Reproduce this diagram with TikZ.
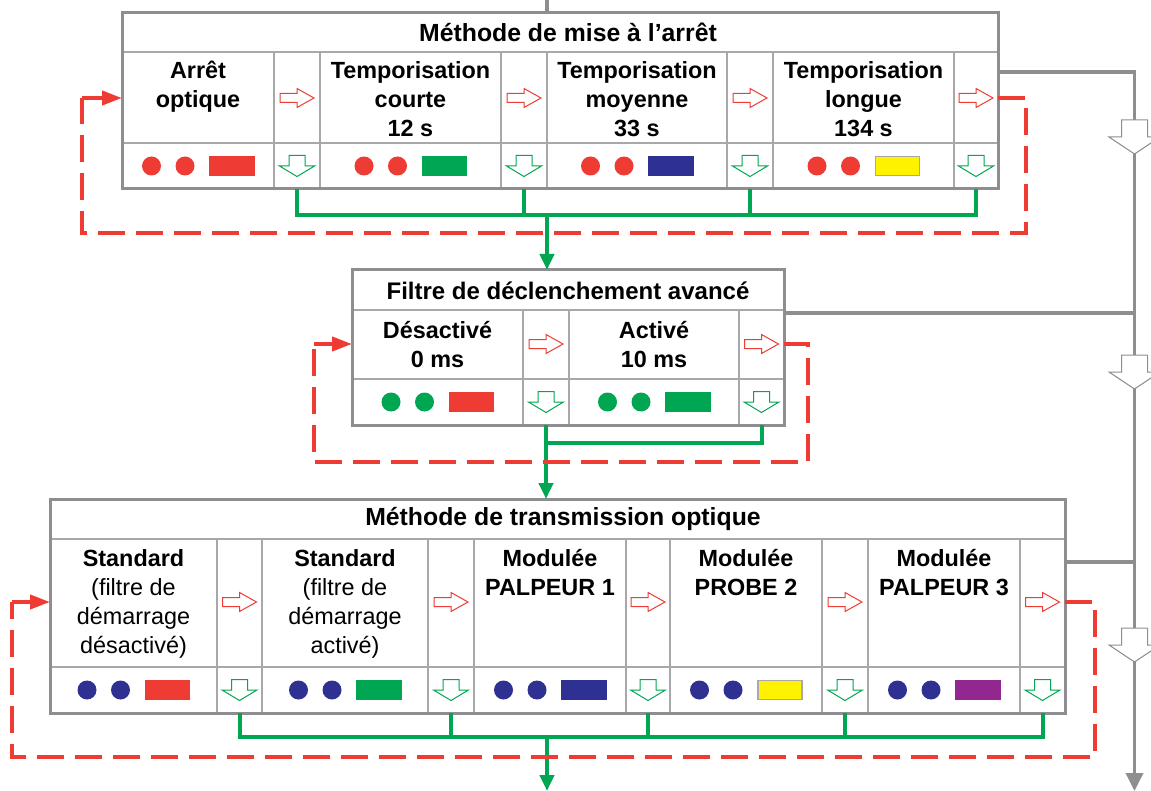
\documentclass[tikz,border=0pt]{standalone}
\usepackage{fontspec}
\setmainfont{Liberation Sans}
\usetikzlibrary{arrows.meta}
\definecolor{ledred}{HTML}{EE3B33}
\definecolor{ledgreen}{HTML}{00A651}
\definecolor{ledblue}{HTML}{2E3192}
\definecolor{ledyellow}{HTML}{FFF200}
\definecolor{ledpurple}{HTML}{92278F}
\definecolor{framegray}{HTML}{8E8E90}
\definecolor{gridgray}{HTML}{A8A8AA}
\tikzset{
  frame/.style={draw=framegray, line width=1.5pt},
  grid/.style={draw=gridgray, line width=0.8pt},
  title/.style={font=\fontsize{12.4pt}{14.5pt}\selectfont\bfseries, inner sep=0pt},
  cell/.style={font=\fontsize{11.7pt}{14.5pt}\selectfont\bfseries, align=center, anchor=north, inner sep=0pt},
  loopline/.style={draw=ledred, line width=2pt, dash pattern=on 13.5pt off 5.5pt},
  looptip/.style={draw=ledred, line width=2pt, -{Triangle[length=10pt,width=7pt]}},
  setline/.style={draw=ledgreen, line width=2pt},
  flowline/.style={draw=framegray, line width=1.8pt},
  pics/nextarrow/.style={code={
    \draw[ledred, fill=white, line width=0.5pt] (-17,-4.5) -- (0,-4.5) -- (0,-9.5) -- (17,0) -- (0,9.5) -- (0,4.5) -- (-17,4.5) -- cycle;}},
  pics/setarrow/.style={code={
    \draw[ledgreen, fill=white, line width=0.5pt] (-8,-10.5) -- (8,-10.5) -- (8,0) -- (17.5,0) -- (0,10.5) -- (-17.5,0) -- (-8,0) -- cycle;}},
  pics/flowarrow/.style={code={
    \draw[framegray, fill=white, line width=0.5pt] (-13,-17) -- (13,-17) -- (13,0) -- (25.5,0) -- (0,17) -- (-25.5,0) -- (-13,0) -- cycle;}},
  pics/leds/.style n args={3}{code={
    \fill[#1] (-46.5,0) circle[radius=9.5];
    \fill[#1] (-13,0) circle[radius=9.5];
    \filldraw[fill=#2, draw=#3, line width=0.8pt] (12,-9.5) rectangle (56,9.5);}},
}
\begin{document}
\begin{tikzpicture}[x=0.5pt, y=-0.5pt]
    \useasboundingbox (0,0) rectangle (1151,791);
    \clip (0,0) rectangle (1151,791);

    % Methode de mise a l'arret
    \draw[grid] (122,52) -- (998,52) (122,143) -- (998,143);
    \foreach \x in {274,320,501,547,727,773,954}
        \draw[grid] (\x,52) -- (\x,189);
    \draw[frame] (122,13) rectangle (998,189);
    \node[title] (t1) at (568,32.5) {Méthode de mise à l’arrêt};
    \node[cell] (c11) at (198,61) {Arrêt\\optique};
    \node[cell] (c12) at (410.5,61) {Temporisation\\courte\\12 s};
    \node[cell] (c13) at (637,61) {Temporisation\\moyenne\\33 s};
    \node[cell] (c14) at (863.5,61) {Temporisation\\longue\\134 s};
    \pic at (198,166) {leds={ledred}{ledred}{ledred}};
    \pic at (410.5,166) {leds={ledred}{ledgreen}{ledgreen}};
    \pic at (637,166) {leds={ledred}{ledblue}{ledblue}};
    \pic at (863.5,166) {leds={ledred}{ledyellow}{gridgray}};
    \foreach \x [count=\i] in {297,524,750,976} {
        \pic at (\x,98) {nextarrow};
        \pic at (\x,166) {setarrow};
        \coordinate (s1\i) at (\x,189);
    }

    % Filtre de declenchement avance
    \draw[grid] (352,310) -- (784,310) (352,379) -- (784,379);
    \foreach \x in {523,569,739}
        \draw[grid] (\x,310) -- (\x,425);
    \draw[frame] (352,270) rectangle (784,425);
    \node[title, font=\fontsize{12pt}{14.5pt}\selectfont\bfseries] (t2) at (568,290.5) {Filtre de déclenchement avancé};
    \node[cell] (c21) at (437.5,321) {Désactivé\\0 ms};
    \node[cell] (c22) at (654,321) {Activé\\10 ms};
    \pic at (437.5,402) {leds={ledgreen}{ledred}{ledred}};
    \pic at (654,402) {leds={ledgreen}{ledgreen}{ledgreen}};
    \foreach \x [count=\i] in {546,761.5} {
        \pic at (\x,344) {nextarrow};
        \pic at (\x,402) {setarrow};
        \coordinate (s2\i) at (\x,425);
    }

    % Methode de transmission optique
    \draw[grid] (50,539) -- (1065,539) (50,667) -- (1065,667);
    \foreach \x in {217,262,428,474,626,670,822,868,1020}
        \draw[grid] (\x,539) -- (\x,713);
    \draw[frame] (50,499) rectangle (1065,713);
    \node[title] (t3) at (563,519) {Méthode de transmission optique};
    \node[cell] (c31) at (133.5,549) {Standard\\\textmd{(filtre de}\\\textmd{démarrage}\\\textmd{désactivé)}};
    \node[cell] (c32) at (345,549) {Standard\\\textmd{(filtre de}\\\textmd{démarrage}\\\textmd{activé)}};
    \node[cell] (c33) at (550,549) {Modulée\\PALPEUR 1};
    \node[cell] (c34) at (746,549) {Modulée\\PROBE 2};
    \node[cell] (c35) at (944,549) {Modulée\\PALPEUR 3};
    \pic at (133.5,690) {leds={ledblue}{ledred}{ledred}};
    \pic at (345,690) {leds={ledblue}{ledgreen}{ledgreen}};
    \pic at (550,690) {leds={ledblue}{ledblue}{ledblue}};
    \pic at (746,690) {leds={ledblue}{ledyellow}{gridgray}};
    \pic at (944,690) {leds={ledblue}{ledpurple}{ledpurple}};
    \foreach \x [count=\i] in {239.5,451,648,845,1042.5} {
        \pic at (\x,602) {nextarrow};
        \pic at (\x,690) {setarrow};
        \coordinate (s3\i) at (\x,713);
    }

    % green links
    \coordinate (j1) at (547,215);
    \coordinate (j2) at (546,443);
    \coordinate (j3) at (547,737);
    \coordinate (in2) at (547,270);
    \coordinate (in3) at (546,499);
    \coordinate (out3) at (547,791);
    \draw[setline] (s11) -- (s11 |- j1) -- (s14 |- j1) -- (s14);
    \draw[setline] (s12) -- (s12 |- j1) (s13) -- (s13 |- j1);
    \draw[setline, -{Triangle[length=8pt,width=7pt]}] (j1) -- (in2);
    \draw[setline] (s22) -- (s22 |- j2) -- (j2);
    \draw[setline, -{Triangle[length=8pt,width=7pt]}] (s21) -- (in3);
    \draw[setline] (s31) -- (s31 |- j3) -- (s35 |- j3) -- (s35);
    \draw[setline] (s32) -- (s32 |- j3) (s33) -- (s33 |- j3) (s34) -- (s34 |- j3);
    \draw[setline, -{Triangle[length=8pt,width=7pt]}] (j3) -- (out3);

    % red loops
    \coordinate (r1a) at (998,98);
    \coordinate (r1b) at (1026,233);
    \coordinate (r1c) at (82,98);
    \coordinate (r1d) at (122,98);
    \draw[loopline] (r1a) -| (r1b) -| (r1c);
    \draw[looptip] (r1c) -- (r1d);
    \coordinate (r2a) at (784,344);
    \coordinate (r2b) at (808,462);
    \coordinate (r2c) at (314,344);
    \coordinate (r2d) at (352,344);
    \draw[loopline] (r2a) -| (r2b) -| (r2c);
    \draw[looptip] (r2c) -- (r2d);
    \coordinate (r3a) at (1065,602);
    \coordinate (r3b) at (1095,757);
    \coordinate (r3c) at (12,602);
    \coordinate (r3d) at (50,602);
    \draw[loopline] (r3a) -| (r3b) -| (r3c);
    \draw[looptip] (r3c) -- (r3d);

    % gray flow
    \coordinate (top) at (547,0);
    \coordinate (in1) at (547,13);
    \coordinate (g1) at (998,72);
    \coordinate (g2) at (784,313);
    \coordinate (g3) at (1065,562);
    \coordinate (gend) at (1134.5,791);
    \draw[flowline] (top) -- (in1);
    \draw[flowline, -{Triangle[length=9pt,width=8.5pt]}] (g1) -| (gend);
    \draw[flowline] (g2) -- (g2 -| gend) (g3) -- (g3 -| gend);
    \pic at (1134.5,137) {flowarrow};
    \pic at (1134.5,372) {flowarrow};
    \pic at (1134.5,645) {flowarrow};
\end{tikzpicture}
\end{document}
